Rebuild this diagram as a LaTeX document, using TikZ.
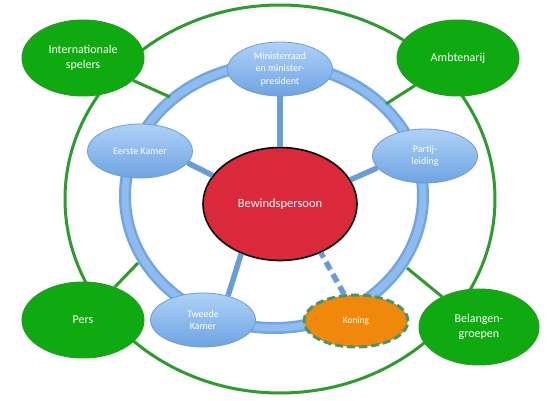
\documentclass[tikz,border=0pt]{standalone}
\usepackage{fontspec}
\setmainfont{Carlito}
\usetikzlibrary{shapes.geometric}
\definecolor{gfill}{HTML}{0FAA0F}
\definecolor{gline}{HTML}{2E9B2E}
\definecolor{gborder}{HTML}{2A992A}
\definecolor{ringout}{HTML}{72A5E2}
\definecolor{ringin}{HTML}{8EBCEF}
\definecolor{spoke}{HTML}{6A9DD8}
\definecolor{btop}{HTML}{AED2F8}
\definecolor{bbot}{HTML}{6FA3E2}
\definecolor{bborder}{HTML}{6E9CD6}
\definecolor{redfill}{HTML}{D9293A}
\definecolor{orangefill}{HTML}{F0880C}
\definecolor{kborder}{HTML}{3E9A6E}
\tikzset{
  greennode/.style={ellipse, draw=gborder, line width=1pt, fill=gfill, text=white,
    inner sep=0pt, minimum width=122pt, minimum height=76pt, align=center,
    font=\fontsize{12}{14.5}\selectfont},
  bluenode/.style={ellipse, draw=bborder, line width=0.8pt, top color=btop, bottom color=bbot,
    text=white, inner sep=0pt, minimum width=105pt, minimum height=54pt, align=center,
    font=\fontsize{10}{12.5}\selectfont},
  greenlink/.style={gline, line width=3pt},
  spokeline/.style={spoke, line width=5.5pt},
}
\begin{document}
\begin{tikzpicture}[x=1pt,y=-1pt]
\useasboundingbox (0,0) rectangle (550,401);
% outer green ellipse
\draw[gline, line width=3pt] (280,199) ellipse [x radius=215pt, y radius=194pt];
% blue ring
\draw[ringout, line width=12pt] (274,196) ellipse [x radius=149pt, y radius=132pt];
\draw[ringin, line width=7pt] (274,196) ellipse [x radius=149pt, y radius=132pt];
% ring coordinates
\coordinate (r1) at (170,97);
\coordinate (r2) at (386,104);
\coordinate (r3) at (138,263);
\coordinate (r4) at (407,268);
% nodes
\node[greennode] (intl) at (83,58) {Internationale\\spelers};
\node[greennode] (amb) at (458,58) {Ambtenarij};
\node[greennode] (pers) at (83,320) {Pers};
\node[greennode, minimum width=120pt] (bel) at (479,327) {Belangen-\\groepen};
% green links
\draw[greenlink] (intl) -- (r1);
\draw[greenlink] (amb) -- (r2);
\draw[greenlink] (pers) -- (r3);
\draw[greenlink] (bel) -- (r4);
% central
\node[ellipse, draw=black, line width=1.6pt, fill=redfill, text=white, inner sep=0pt,
  minimum width=154pt, minimum height=113pt, font=\fontsize{12.5}{15}\selectfont] (bew) at (280,204) {Bewindspersoon};
% blue nodes
\node[bluenode] (min) at (280,69) {Ministerraad\\en minister-\\president};
\node[bluenode] (eerste) at (140,151) {Eerste Kamer};
\node[bluenode] (partij) at (425,156) {Partij-\\leiding};
\node[bluenode] (tweede) at (203,320) {Tweede\\Kamer};
\node[ellipse, draw=kborder, line width=3pt, dash pattern=on 8pt off 4pt, fill=orangefill,
  text=white, inner sep=0pt, minimum width=104pt, minimum height=52pt,
  font=\fontsize{9.5}{12}\selectfont] (koning) at (356,321) {Koning};
% spokes
\draw[spokeline] (min) -- (bew);
\draw[spokeline] (eerste.-14) -- (bew.157);
\draw[spokeline] (partij.-166) -- (bew.19);
\draw[spokeline] (tweede.44) -- (bew.232);
\draw[spokeline, dash pattern=on 9pt off 5pt] (koning.114) -- (bew.-50);
\end{tikzpicture}
\end{document}
